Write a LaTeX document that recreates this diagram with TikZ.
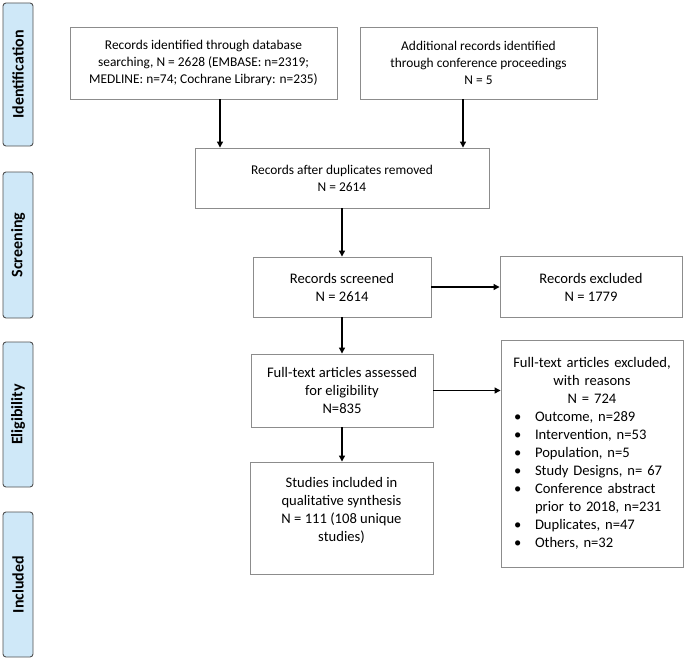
\documentclass[tikz,border=0pt]{standalone}
\usepackage{fontspec}
\setmainfont{Carlito}
\usepackage{tikz}
\usetikzlibrary{arrows.meta}
\definecolor{frame}{HTML}{8C8C8C}
\definecolor{phasefill}{HTML}{CFE8F8}
\definecolor{phaseline}{HTML}{505050}
\newcommand{\reasonline}[1]{\makebox[182pt][l]{\hspace{13pt}\makebox[21pt][l]{\textbullet}#1}}

\begin{document}
\begin{tikzpicture}[x=1pt,y=-1pt,
  box/.style={draw=frame,line width=0.9pt,align=center,inner sep=0pt,
    font=\fontsize{13.4}{17}\selectfont},
  lowbox/.style={box,font=\fontsize{14.6}{18}\selectfont},
  phase/.style={draw=phaseline,fill=phasefill,line width=0.9pt,rounded corners=3pt,
    rotate=90,minimum height=30pt,inner sep=0pt,font=\bfseries\fontsize{16}{18}\selectfont},
  arr/.style={line width=1.2pt,-{Triangle[length=6pt,width=6pt]}}]
  \useasboundingbox (0,0) rectangle (685,661);
  \foreach \y/\h/\lbl/\nm in {74.5/143/Identification/ident, 245/146/Screening/screen,
      414.5/145/Eligibility/elig, 584.5/145/Included/incl} {
    \node[phase,minimum width=\h pt] (\nm) at (18,\y) {\lbl};
  }

  \node[box,minimum width=267pt,minimum height=72pt] (db) at (203.5,63)
    {Records identified through database\\ searching, N = 2628 (EMBASE: n=2319;\\
     MEDLINE: n=74; Cochrane Library: n=235)};
  \node[box,minimum width=237pt,minimum height=72pt] (add) at (478.5,63)
    {Additional records identified\\ through conference proceedings\\ N = 5};
  \node[box,minimum width=294pt,minimum height=60pt] (dup) at (342,178)
    {Records after duplicates removed\\ N = 2614};
  \node[lowbox,minimum width=178pt,minimum height=60pt] (scr) at (342,287)
    {Records screened\\ N = 2614};
  \node[lowbox,minimum width=182pt,minimum height=61pt] (exc) at (591,287)
    {Records excluded\\ N = 1779};
  \node[lowbox,minimum width=182pt,minimum height=73pt] (full) at (342,390.5)
    {Full-text articles assessed\\ for eligibility\\ N=835};
  \node[lowbox,minimum width=182pt,minimum height=227pt,text width=182pt] (reasons) at (592,453.5)
    {Full-text articles excluded,\\ with reasons\\ N = 724\\
     \reasonline{Outcome, n=289}\\
     \reasonline{Intervention, n=53}\\
     \reasonline{Population, n=5}\\
     \reasonline{Study Designs, n= 67}\\
     \reasonline{Conference abstract}\\
     \makebox[182pt][l]{\hspace{34pt}prior to 2018, n=231}\\
     \reasonline{Duplicates, n=47}\\
     \reasonline{Others, n=32}};
  \node[lowbox,minimum width=183pt,minimum height=112pt] (incstud) at (341.5,518)
    {Studies included in\\ qualitative synthesis\\ N = 111 (108 unique\\ studies)\\ \mbox{}};

  \draw[arr] ([xshift=16.5pt]db.south) -- ([xshift=16.5pt]db.south |- dup.north);
  \draw[arr] ([xshift=-15.5pt]add.south) -- ([xshift=-15.5pt]add.south |- dup.north);
  \draw[arr] (dup.south -| scr.north) -- (scr.north);
  \draw[arr] (scr.east) -- (exc.west);
  \draw[arr] (scr.south) -- (full.north -| scr.south);
  \draw[arr] (full.east) -- (full.east -| reasons.west);
  \draw[arr] (full.south) -- (incstud.north -| full.south);
\end{tikzpicture}
\end{document}
